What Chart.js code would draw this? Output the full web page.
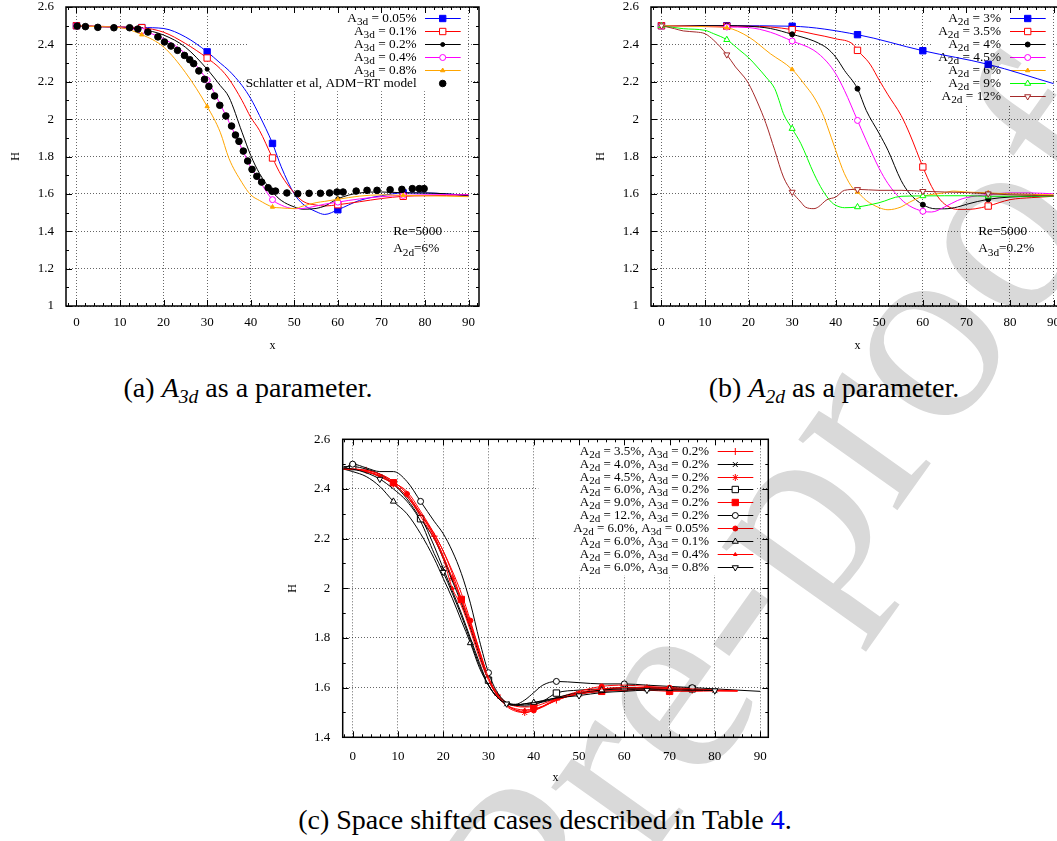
<!DOCTYPE html>
<html>
<head>
<meta charset="utf-8">
<script src="https://cdn.jsdelivr.net/npm/chart.js@4.4.1/dist/chart.umd.min.js"></script>
<style>
  html, body { margin: 0; padding: 0; background: #fff; overflow: hidden; width: 1057px; height: 841px; }
  canvas.plot { position: absolute; }
  .cap { position: absolute; font-family: "Liberation Serif", serif; font-size: 28px; line-height: 28px;
         white-space: nowrap; transform: translateX(-50%); color: #000; }
  .cap i { font-style: italic; }
  .cap sub { font-size: 70%; font-style: italic; vertical-align: -0.3em; line-height: 0; }
  #wm { position: absolute; left: 0; top: 0; mix-blend-mode: multiply; pointer-events: none; }
</style>
</head>
<body>
<canvas class="plot" id="ca" width="490" height="360" style="left:0;top:0"></canvas>
<canvas class="plot" id="cb" width="490" height="360" style="left:585px;top:0"></canvas>
<canvas class="plot" id="cc" width="500" height="360" style="left:280px;top:430px"></canvas>

<div class="cap" style="left:248px;top:374px">(a) <i>A</i><sub>3d</sub> as a parameter.</div>
<div class="cap" style="left:834px;top:374px">(b) <i>A</i><sub>2d</sub> as a parameter.</div>
<div class="cap" style="left:545px;top:806px">(c) Space shifted cases described in Table <span style="color:#0000ee">4</span>.</div>

<canvas id="wm" width="1057" height="841"></canvas>

<script>
// ---------- panel (a): A3d as a parameter ----------
const xA = [0, 5, 10, 15, 20, 25, 30, 33, 35, 38, 40, 42, 45, 47, 50, 52, 55, 57, 60, 65, 70, 75, 80, 85, 90];
const hA005 = [2.5, 2.495, 2.493, 2.49, 2.485, 2.44, 2.36, 2.3, 2.26, 2.18, 2.11, 2.02, 1.87, 1.745, 1.6, 1.545, 1.505, 1.49, 1.515, 1.565, 1.59, 1.605, 1.605, 1.6, 1.592];
const hA01  = [2.5, 2.497, 2.493, 2.489, 2.465, 2.405, 2.327, 2.27, 2.215, 2.1, 2.01, 1.94, 1.792, 1.7, 1.605, 1.56, 1.54, 1.535, 1.542, 1.558, 1.575, 1.587, 1.59, 1.592, 1.595];
const hA02  = [2.5, 2.495, 2.49, 2.48, 2.45, 2.385, 2.267, 2.18, 2.118, 1.93, 1.806, 1.71, 1.61, 1.565, 1.53, 1.518, 1.522, 1.535, 1.574, 1.605, 1.61, 1.606, 1.605, 1.6, 1.59];
const hA04  = [2.5, 2.495, 2.49, 2.472, 2.43, 2.35, 2.208, 2.08, 1.985, 1.84, 1.744, 1.67, 1.569, 1.54, 1.521, 1.522, 1.535, 1.545, 1.556, 1.573, 1.585, 1.592, 1.595, 1.596, 1.595];
const hA08  = [2.5, 2.495, 2.49, 2.452, 2.386, 2.25, 2.068, 1.93, 1.79, 1.66, 1.595, 1.565, 1.53, 1.525, 1.521, 1.535, 1.553, 1.56, 1.571, 1.588, 1.595, 1.592, 1.59, 1.588, 1.585];
const xSchl = [0.15, 2.06, 4.9, 8.6, 12.2, 14.1, 16.4, 18.7, 20.2, 21.7, 23.2, 24.8, 26.0, 26.9, 28.1, 29.4, 30.4, 31.7, 32.9, 34.3, 35.6, 36.5, 37.3, 38.3, 39.3, 40.3, 41.4, 42.5, 44.0, 44.9, 45.7, 48.3, 50.8, 53.4, 56.0, 58.1, 59.8, 61.2, 64.2, 66.7, 69.0, 72.0, 74.7, 77.1, 78.7, 79.8];
const hSchl = [2.498, 2.495, 2.491, 2.489, 2.489, 2.482, 2.466, 2.44, 2.413, 2.391, 2.368, 2.341, 2.318, 2.297, 2.258, 2.213, 2.175, 2.124, 2.074, 2.017, 1.963, 1.915, 1.881, 1.829, 1.776, 1.731, 1.694, 1.663, 1.633, 1.614, 1.615, 1.605, 1.601, 1.603, 1.603, 1.605, 1.61, 1.61, 1.615, 1.619, 1.619, 1.622, 1.624, 1.628, 1.628, 1.628];
const labelsA = ['A_{3d} = 0.05%', 'A_{3d} = 0.1%', 'A_{3d} = 0.2%', 'A_{3d} = 0.4%', 'A_{3d} = 0.8%', 'Schlatter et al, ADM\u2212RT model'];
const marksAB = [0, 15, 30, 45, 60, 75];

// ---------- panel (b): A2d as a parameter ----------
const xB3  = [0, 15, 30, 45, 60, 75, 90];
const hB3  = [2.5, 2.5, 2.497, 2.452, 2.366, 2.293, 2.19];
const xB35 = [0, 15, 20, 25, 30, 35, 40, 44, 45, 47, 48, 50, 52, 55, 57, 60, 62, 64, 66, 68, 70, 72, 75, 80, 85, 90];
const hB35 = [2.5, 2.497, 2.497, 2.493, 2.479, 2.455, 2.43, 2.4, 2.368, 2.32, 2.29, 2.208, 2.13, 2.02, 1.92, 1.744, 1.64, 1.568, 1.53, 1.517, 1.517, 1.52, 1.535, 1.569, 1.58, 1.587];
const xB4  = [0, 15, 20, 25, 30, 35, 37, 38, 40, 42, 45, 47, 50, 52, 55, 57, 60, 63, 65, 68, 70, 75, 80, 90];
const hB4  = [2.5, 2.5, 2.497, 2.485, 2.454, 2.418, 2.395, 2.38, 2.332, 2.261, 2.163, 2.047, 1.922, 1.833, 1.672, 1.601, 1.542, 1.52, 1.52, 1.53, 1.544, 1.571, 1.583, 1.59];
const xB45 = [0, 15, 20, 25, 30, 35, 38, 40, 42, 45, 47, 50, 52, 55, 57, 60, 62, 65, 68, 70, 75, 80, 85, 90];
const hB45 = [2.5, 2.493, 2.49, 2.465, 2.418, 2.368, 2.306, 2.243, 2.154, 1.993, 1.886, 1.735, 1.655, 1.571, 1.535, 1.507, 1.503, 1.53, 1.565, 1.58, 1.596, 1.605, 1.605, 1.6];
const xB6  = [0, 10, 15, 20, 25, 30, 33, 35, 37, 38, 40, 42, 44, 45, 47, 50, 52, 55, 57, 60, 65, 67, 70, 75, 80, 90];
const hB6  = [2.5, 2.495, 2.489, 2.44, 2.35, 2.266, 2.181, 2.118, 2.029, 1.967, 1.833, 1.708, 1.628, 1.61, 1.565, 1.526, 1.515, 1.53, 1.556, 1.587, 1.606, 1.615, 1.61, 1.605, 1.6, 1.595];
const xB9  = [0, 5, 10, 12, 15, 18, 20, 22, 24, 26, 27, 28, 30, 32, 35, 37, 39, 40, 42, 45, 50, 55, 60, 65, 70, 75, 80, 90];
const hB9  = [2.5, 2.484, 2.475, 2.457, 2.425, 2.368, 2.329, 2.279, 2.225, 2.163, 2.1, 2.029, 1.949, 1.869, 1.708, 1.619, 1.556, 1.539, 1.526, 1.53, 1.553, 1.587, 1.589, 1.59, 1.59, 1.587, 1.587, 1.588];
const xB12 = [0, 3, 5, 8, 10, 12, 15, 17, 19, 20, 22, 24, 26, 28, 30, 32, 33, 35, 36, 38, 40, 42, 45, 50, 55, 60, 65, 70, 75, 80, 90];
const hB12 = [2.5, 2.484, 2.472, 2.466, 2.457, 2.422, 2.345, 2.279, 2.225, 2.19, 2.092, 1.976, 1.833, 1.69, 1.61, 1.556, 1.53, 1.521, 1.53, 1.569, 1.583, 1.619, 1.624, 1.619, 1.619, 1.614, 1.61, 1.607, 1.601, 1.595, 1.59];
const labelsB = ['A_{2d} = 3%', 'A_{2d} = 3.5%', 'A_{2d} = 4%', 'A_{2d} = 4.5%', 'A_{2d} = 6%', 'A_{2d} = 9%', 'A_{2d} = 12%'];

// ---------- panel (c): space shifted cases ----------
const xC = [-2, 0, 3, 6, 9, 12, 15, 18, 20, 22, 24, 26, 28, 30, 32, 34, 36, 38, 40, 42, 45, 50, 55, 60, 65, 70, 75, 80, 85, 90];
const hC35   = [2.48, 2.48, 2.475, 2.46, 2.43, 2.38, 2.3, 2.21, 2.13, 2.04, 1.96, 1.86, 1.75, 1.64, 1.57, 1.53, 1.51, 1.505, 1.512, 1.525, 1.55, 1.575, 1.59, 1.595, 1.595, 1.59, 1.59, 1.588, 1.587, null];
const hC40   = [2.485, 2.48, 2.47, 2.45, 2.42, 2.37, 2.29, 2.17, 2.08, 1.99, 1.9, 1.8, 1.7, 1.61, 1.56, 1.535, 1.53, 1.53, 1.535, 1.542, 1.555, 1.575, 1.585, 1.59, 1.595, 1.595, 1.59, 1.588, null, null];
const hC45   = [2.48, 2.48, 2.47, 2.45, 2.42, 2.37, 2.3, 2.21, 2.13, 2.04, 1.95, 1.85, 1.74, 1.64, 1.57, 1.525, 1.505, 1.5, 1.508, 1.522, 1.55, 1.575, 1.59, 1.6, 1.6, 1.595, 1.59, 1.588, 1.587, null];
const hC60   = [2.49, 2.49, 2.48, 2.46, 2.42, 2.36, 2.28, 2.2, 2.12, 2.03, 1.94, 1.84, 1.73, 1.63, 1.57, 1.54, 1.53, 1.525, 1.53, 1.545, 1.578, 1.59, 1.595, 1.6, 1.6, 1.6, 1.595, 1.59, null, null];
const hC90   = [2.48, 2.48, 2.47, 2.455, 2.425, 2.39, 2.31, 2.22, 2.15, 2.06, 1.955, 1.85, 1.74, 1.64, 1.575, 1.54, 1.525, 1.522, 1.524, 1.535, 1.555, 1.575, 1.585, 1.59, 1.59, 1.585, 1.585, 1.587, 1.587, null];
const hC120  = [2.48, 2.5, 2.485, 2.47, 2.47, 2.43, 2.35, 2.27, 2.22, 2.15, 2.06, 1.94, 1.79, 1.66, 1.58, 1.54, 1.533, 1.55, 1.58, 1.61, 1.625, 1.62, 1.615, 1.615, 1.61, 1.605, 1.6, 1.595, 1.59, 1.585];
const hC6005 = [2.48, 2.48, 2.475, 2.46, 2.43, 2.38, 2.3, 2.22, 2.15, 2.07, 1.98, 1.87, 1.75, 1.64, 1.57, 1.53, 1.51, 1.5, 1.508, 1.525, 1.555, 1.585, 1.605, 1.61, 1.605, 1.6, 1.595, 1.59, 1.588, null];
const hC601  = [2.48, 2.47, 2.45, 2.41, 2.35, 2.3, 2.22, 2.12, 2.04, 1.96, 1.87, 1.78, 1.68, 1.61, 1.56, 1.535, 1.53, 1.535, 1.54, 1.545, 1.56, 1.58, 1.59, 1.595, 1.595, 1.595, 1.59, 1.588, null, null];
const hC604  = [2.48, 2.48, 2.47, 2.45, 2.42, 2.37, 2.29, 2.2, 2.12, 2.0, 1.93, 1.83, 1.72, 1.63, 1.565, 1.53, 1.515, 1.51, 1.515, 1.525, 1.548, 1.58, 1.595, 1.6, 1.6, 1.595, 1.59, 1.588, 1.587, null];
const hC608  = [2.485, 2.48, 2.465, 2.44, 2.4, 2.35, 2.27, 2.14, 2.065, 1.98, 1.89, 1.79, 1.69, 1.61, 1.56, 1.535, 1.53, 1.535, 1.54, 1.548, 1.558, 1.568, 1.58, 1.585, 1.59, 1.59, 1.59, 1.588, null, null];
const labelsC = ['A_{2d} = 3.5%, A_{3d} = 0.2%', 'A_{2d} = 4.0%, A_{3d} = 0.2%', 'A_{2d} = 4.5%, A_{3d} = 0.2%',
  'A_{2d} = 6.0%, A_{3d} = 0.2%', 'A_{2d} = 9.0%, A_{3d} = 0.2%', 'A_{2d} = 12.%, A_{3d} = 0.2%',
  'A_{2d} = 6.0%, A_{3d} = 0.05%', 'A_{2d} = 6.0%, A_{3d} = 0.1%', 'A_{2d} = 6.0%, A_{3d} = 0.4%', 'A_{2d} = 6.0%, A_{3d} = 0.8%'];
const marksC = [[3, 18, 32, 45, 60, 75], [6, 20, 34, 50, 65, 80], [9, 22, 38, 50, 65], [0, 15, 30, 45, 60, 75],
  [9, 24, 40, 55, 70], [0, 15, 30, 45, 60, 75], [12, 26, 40, 55, 70], [9, 26, 40, 55, 70], [6, 22, 38, 50, 65], [6, 20, 34, 50, 65, 80]];

const yTicksAB = [1, 2.6];
const yTicksC = [1.4, 2.6];

// ---------- helpers ----------
const SERIF = '"Liberation Serif", "Times New Roman", serif';
Chart.defaults.font.family = SERIF;
const GRID = 'rgba(0,0,0,0.6)';

function pts(xs, hs) {
  const out = [];
  xs.forEach((x, i) => { if (hs[i] !== null) out.push({ x: x, y: hs[i] }); });
  return out;
}

function series(label, xs, hs, marks, st) {
  const data = pts(xs, hs);
  return {
    label: label,
    data: data,
    showLine: st.line !== false,
    borderColor: st.color,
    backgroundColor: st.color,
    borderWidth: 1,
    pointStyle: st.style,
    pointRotation: st.rot || 0,
    pointRadius: data.map(p => marks.includes(p.x) ? st.r : 0),
    pointHoverRadius: 0,
    pointBorderColor: st.color,
    pointBackgroundColor: st.fill || st.color,
    pointBorderWidth: 1,
    cubicInterpolationMode: 'monotone',
    keyRadius: st.r
  };
}

function parts(s) {
  const out = [];
  const re = /_\{([^}]*)\}/g;
  let last = 0, m;
  while ((m = re.exec(s))) {
    if (m.index > last) out.push({ t: s.slice(last, m.index), sub: false });
    out.push({ t: m[1], sub: true });
    last = re.lastIndex;
  }
  if (last < s.length) out.push({ t: s.slice(last), sub: false });
  return out;
}

function drawRich(ctx, s, x, y, size, align) {
  const ps = parts(s);
  const f = sub => (sub ? size * 0.85 : size) + 'px ' + SERIF;
  let w = 0;
  ps.forEach(p => { ctx.font = f(p.sub); p.w = ctx.measureText(p.t).width; w += p.w; });
  let cx = align === 'right' ? x - w : x;
  ctx.textAlign = 'left';
  ctx.textBaseline = 'middle';
  ctx.fillStyle = '#000';
  ps.forEach(p => { ctx.font = f(p.sub); ctx.fillText(p.t, cx, p.sub ? y + size * 0.3 : y); cx += p.w; });
}

// gnuplot style frame: key box, inward ticks, border, notes
const framePlugin = {
  id: 'frame',
  beforeDatasetsDraw(chart, args, o) {
    const ctx = chart.ctx, a = chart.chartArea;
    const n = chart.data.datasets.length;
    ctx.save();
    ctx.fillStyle = '#fff';
    ctx.fillRect(a.right + o.boxL, a.top + 1, o.boxR - o.boxL, o.rowTop + o.rowStep * (n - 0.5) + 1);
    chart.data.datasets.forEach((ds, i) => {
      const y = Math.round(a.top + o.rowTop + i * o.rowStep) + 0.5;
      drawRich(ctx, ds.label, a.right + o.textR, y, o.size, 'right');
      if (ds.showLine) {
        ctx.strokeStyle = ds.borderColor;
        ctx.lineWidth = 1;
        ctx.beginPath();
        ctx.moveTo(a.right + o.lineL, y);
        ctx.lineTo(a.right + o.lineR, y);
        ctx.stroke();
      }
      ctx.strokeStyle = ds.pointBorderColor;
      ctx.fillStyle = ds.pointBackgroundColor;
      ctx.lineWidth = 1;
      Chart.helpers.drawPoint(ctx, { pointStyle: ds.pointStyle, rotation: ds.pointRotation, radius: ds.keyRadius, borderWidth: 1 },
        a.right + o.mark, y);
    });
    ctx.restore();
  },
  afterDatasetsDraw(chart, args, o) {
    const ctx = chart.ctx, a = chart.chartArea;
    const xs = chart.scales.x, ys = chart.scales.y;
    ctx.save();
    ctx.strokeStyle = '#000';
    ctx.lineWidth = 1;
    ctx.beginPath();
    for (let v = Math.ceil(xs.min / 2) * 2; v <= xs.max; v += 2) {
      const px = Math.round(xs.getPixelForValue(v)) + 0.5;
      const L = v % 10 === 0 ? 6 : 3;
      ctx.moveTo(px, a.bottom); ctx.lineTo(px, a.bottom - L);
      ctx.moveTo(px, a.top); ctx.lineTo(px, a.top + L);
    }
    for (let k = Math.ceil(ys.min * 10 - 1e-6); k <= Math.floor(ys.max * 10 + 1e-6); k++) {
      const py = Math.round(ys.getPixelForValue(k / 10)) + 0.5;
      const L = k % 2 === 0 ? 6 : 3;
      ctx.moveTo(a.left, py); ctx.lineTo(a.left + L, py);
      ctx.moveTo(a.right, py); ctx.lineTo(a.right - L, py);
    }
    ctx.stroke();
    ctx.lineWidth = 1.5;
    ctx.strokeRect(a.left, a.top, a.right - a.left, a.bottom - a.top);
    (o.notes || []).forEach(nt => {
      drawRich(ctx, nt.text, xs.getPixelForValue(nt.x), ys.getPixelForValue(nt.y), o.size, 'left');
    });
    ctx.restore();
  }
};

function makeChart(id, datasets, c) {
  datasets.forEach((d, i) => { d.order = datasets.length - i; });
  return new Chart(document.getElementById(id), {
    type: 'scatter',
    data: { datasets: datasets },
    options: {
      responsive: false,
      animation: false,
      devicePixelRatio: 1,
      layout: { padding: { top: c.top, right: c.right, left: 0, bottom: 0 } },
      plugins: { legend: { display: false }, tooltip: { enabled: false }, frame: c.frame },
      scales: {
        x: {
          type: 'linear', min: c.xmin, max: c.xmax,
          afterFit: s => { s.height = c.xh; s.paddingLeft = 0; s.paddingRight = 0; },
          ticks: { stepSize: 10, includeBounds: false, autoSkip: false, maxRotation: 0, padding: c.xpad, color: '#000',
                   font: { size: 13 }, callback: v => String(v) },
          grid: { color: GRID, drawTicks: false, lineWidth: 1 },
          border: { display: false, dash: [1, 2] },
          title: { display: true, text: 'x', color: '#000', font: { size: 12 }, padding: { top: 0, bottom: c.xtp } }
        },
        y: {
          min: c.yr[0], max: c.yr[1],
          afterFit: s => { s.width = c.yw; s.paddingTop = 0; s.paddingBottom = 0; },
          ticks: { stepSize: 0.2, includeBounds: false, autoSkip: false, padding: c.ypad, color: '#000',
                   font: { size: 13 }, callback: v => String(Number(v.toFixed(2))) },
          grid: { color: GRID, drawTicks: false, lineWidth: 1 },
          border: { display: false, dash: [1, 2] },
          title: { display: true, text: 'H', color: '#000', font: { size: 12 }, padding: { top: c.ytp, bottom: 0 } }
        }
      }
    },
    plugins: [framePlugin]
  });
}

// ---------- build panels ----------
makeChart('ca', [
  series(labelsA[0], xA, hA005, marksAB, { color: '#0000ff', style: 'rect', r: 4.5 }),
  series(labelsA[1], xA, hA01, marksAB, { color: '#ff0000', style: 'rect', r: 4.5, fill: '#fff' }),
  series(labelsA[2], xA, hA02, marksAB, { color: '#000000', style: 'circle', r: 2 }),
  series(labelsA[3], xA, hA04, marksAB, { color: '#ff00ff', style: 'circle', r: 3, fill: '#fff' }),
  series(labelsA[4], xA, hA08, marksAB, { color: '#ffa500', style: 'triangle', r: 2.5 }),
  series(labelsA[5], xSchl, hSchl, xSchl, { color: '#000000', style: 'circle', r: 3.3, line: false })
], {
  top: 7, right: 11, xh: 54, yw: 66, xmin: -2.4, xmax: 92.4, yr: yTicksAB, xpad: 9, ypad: 12, xtp: 7, ytp: 9,
  frame: { size: 13.3, rowTop: 11.3, rowStep: 12.9, textR: -62.3, lineL: -54, lineR: -18.3, mark: -36.3, boxL: -231, boxR: -13,
           notes: [{ text: 'Re=5000', x: 72.7, y: 1.4 }, { text: 'A_{2d}=6%', x: 72.7, y: 1.305 }] }
});

makeChart('cb', [
  series(labelsB[0], xB3, hB3, marksAB, { color: '#0000ff', style: 'rect', r: 4.5 }),
  series(labelsB[1], xB35, hB35, marksAB, { color: '#ff0000', style: 'rect', r: 4.5, fill: '#fff' }),
  series(labelsB[2], xB4, hB4, marksAB, { color: '#000000', style: 'circle', r: 2.5 }),
  series(labelsB[3], xB45, hB45, marksAB, { color: '#ff00ff', style: 'circle', r: 3, fill: '#fff' }),
  series(labelsB[4], xB6, hB6, marksAB, { color: '#ffa500', style: 'triangle', r: 2.5 }),
  series(labelsB[5], xB9, hB9, marksAB, { color: '#00ff00', style: 'triangle', r: 3.5, fill: '#fff' }),
  series(labelsB[6], xB12, hB12, marksAB, { color: '#a52a2a', style: 'triangle', r: 3.5, fill: '#fff', rot: 180 })
], {
  top: 7, right: 11, xh: 54, yw: 66, xmin: -2.4, xmax: 92.4, yr: yTicksAB, xpad: 9, ypad: 12, xtp: 7, ytp: 9,
  frame: { size: 13.3, rowTop: 11.3, rowStep: 12.9, textR: -63, lineL: -54, lineR: -18.3, mark: -36.3, boxL: -131, boxR: -13,
           notes: [{ text: 'Re=5000', x: 72.7, y: 1.4 }, { text: 'A_{3d}=0.2%', x: 72.7, y: 1.305 }] }
});

makeChart('cc', [
  series(labelsC[0], xC, hC35, marksC[0], { color: '#ff0000', style: 'cross', r: 3.5 }),
  series(labelsC[1], xC, hC40, marksC[1], { color: '#000000', style: 'crossRot', r: 3.5 }),
  series(labelsC[2], xC, hC45, marksC[2], { color: '#ff0000', style: 'star', r: 3.5 }),
  series(labelsC[3], xC, hC60, marksC[3], { color: '#000000', style: 'rect', r: 4.5, fill: '#fff' }),
  series(labelsC[4], xC, hC90, marksC[4], { color: '#ff0000', style: 'rect', r: 4.5 }),
  series(labelsC[5], xC, hC120, marksC[5], { color: '#000000', style: 'circle', r: 3, fill: '#fff' }),
  series(labelsC[6], xC, hC6005, marksC[6], { color: '#ff0000', style: 'circle', r: 2.5 }),
  series(labelsC[7], xC, hC601, marksC[7], { color: '#000000', style: 'triangle', r: 3.5, fill: '#fff' }),
  series(labelsC[8], xC, hC604, marksC[8], { color: '#ff0000', style: 'triangle', r: 2 }),
  series(labelsC[9], xC, hC608, marksC[9], { color: '#000000', style: 'triangle', r: 3.5, fill: '#fff', rot: 180 })
], {
  top: 9.3, right: 11.7, xh: 52.7, yw: 62.7, xmin: -2.2, xmax: 91.8, yr: yTicksC, xpad: 11, ypad: 12.5, xtp: 5, ytp: 6,
  frame: { size: 13, rowTop: 11.4, rowStep: 12.9, textR: -59.3, lineL: -50.6, lineR: -15, mark: -33, boxL: -230, boxR: -11 }
});

// ---------- "Journal Pre-proof" watermark ----------
(function () {
  const ctx = document.getElementById('wm').getContext('2d');
  const size = 265;
  ctx.font = size + 'px ' + SERIF;
  const w1 = ctx.measureText('Journal Pr').width;
  const we = ctx.measureText('e').width;
  ctx.translate(684, 708);
  ctx.rotate(-54.6 * Math.PI / 180);
  ctx.fillStyle = '#d9d9d9';
  ctx.textBaseline = 'alphabetic';
  ctx.fillText('Journal Pre-proof', -(w1 + we / 2), size * 0.224);
})();
</script>
</body>
</html>
